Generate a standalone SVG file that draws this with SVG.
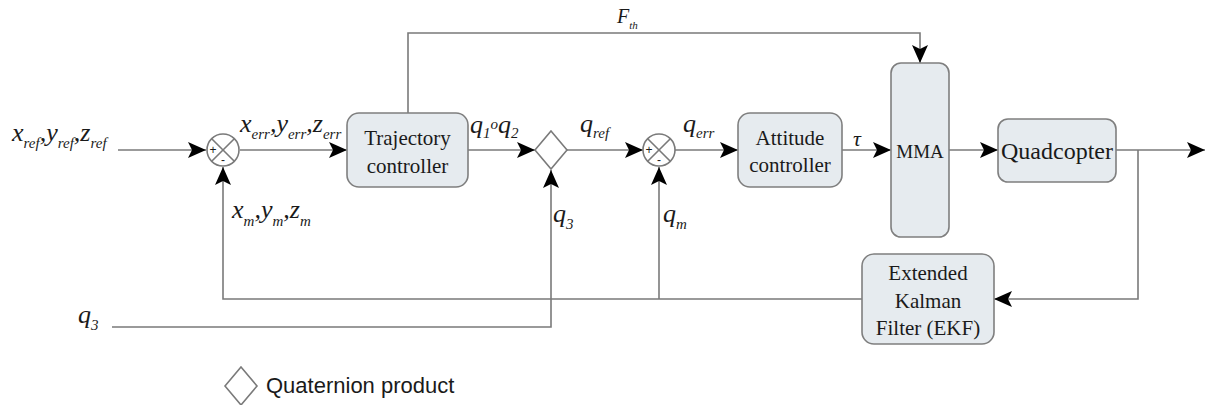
<svg xmlns="http://www.w3.org/2000/svg" width="1210" height="405" viewBox="0 0 1210 405">
<style>
.ln{fill:none;stroke:#7a7a7a;stroke-width:1.6}
.box{fill:#e6ebef;stroke:#7f7f7f;stroke-width:1.6}
.bt{font-family:'Liberation Serif','DejaVu Serif',serif;font-size:21px;fill:#1a1a1a;text-anchor:middle}
.m{font-family:'Liberation Serif','DejaVu Serif',serif;font-style:italic;font-size:26px;fill:#1a1a1a}
.s{font-size:15px}
.sg{font-family:'Liberation Sans',sans-serif;font-size:12px;fill:#1a1a1a;text-anchor:middle}
.lg{font-family:'Liberation Sans',sans-serif;font-size:22px;fill:#1a1a1a}
</style>
<defs>
<marker id="ah" markerUnits="userSpaceOnUse" markerWidth="20" markerHeight="16" refX="18" refY="8" orient="auto">
<path d="M0,0 L18,8 L0,16 L4,8 Z" fill="#000"/>
</marker>
</defs>

<g id="connectors">
<path class="ln" d="M118,150 H206" marker-end="url(#ah)"/>
<path class="ln" d="M240,150 H347" marker-end="url(#ah)"/>
<path class="ln" d="M862,299 H223 V167" marker-end="url(#ah)"/>
<path class="ln" d="M659,299 V167" marker-end="url(#ah)"/>
<path class="ln" d="M468,150 H535" marker-end="url(#ah)"/>
<path class="ln" d="M112,327 H551 V170" marker-end="url(#ah)"/>
<path class="ln" d="M567,150 H643" marker-end="url(#ah)"/>
<path class="ln" d="M675,150 H738" marker-end="url(#ah)"/>
<path class="ln" d="M842,150 H891" marker-end="url(#ah)"/>
<path class="ln" d="M949,150 H998" marker-end="url(#ah)"/>
<path class="ln" d="M1116,150 H1205" marker-end="url(#ah)"/>
<path class="ln" d="M1138,150 V299 H994" marker-end="url(#ah)"/>
<path class="ln" d="M408,113 V33 H920 V63" marker-end="url(#ah)"/>
</g>

<g id="sum1">
<circle class="ln" cx="223" cy="150" r="16" fill="#fff"/>
<path class="ln" d="M211.7,138.7 L234.3,161.3 M234.3,138.7 L211.7,161.3"/>
<text class="sg" x="213" y="154">+</text>
<text class="sg" x="223" y="164">-</text>
</g>

<g id="sum2">
<circle class="ln" cx="659" cy="150" r="16" fill="#fff"/>
<path class="ln" d="M647.7,138.7 L670.3,161.3 M670.3,138.7 L647.7,161.3"/>
<text class="sg" x="649" y="154">+</text>
<text class="sg" x="659" y="164">-</text>
</g>

<g id="trajectory">
<rect class="box" x="347" y="113" width="121" height="74" rx="12"/>
<text class="bt" x="407.5" y="145">Trajectory</text>
<text class="bt" x="407.5" y="173">controller</text>
</g>

<g id="product">
<path class="ln" d="M551,131 L567,150 L551,169 L535,150 Z" fill="#fff"/>
</g>

<g id="attitude">
<rect class="box" x="738" y="113" width="104" height="74" rx="12"/>
<text class="bt" x="790" y="145">Attitude</text>
<text class="bt" x="790" y="172">controller</text>
</g>

<g id="mma">
<rect class="box" x="891" y="63" width="58" height="174" rx="10"/>
<text class="bt" x="920" y="158" style="font-size:19px">MMA</text>
</g>

<g id="quadcopter">
<rect class="box" x="998" y="119" width="118" height="63" rx="10"/>
<text class="bt" x="1057" y="159" style="font-size:24px">Quadcopter</text>
</g>

<g id="ekf">
<rect class="box" x="862" y="254" width="132" height="90" rx="12"/>
<text class="bt" x="928" y="280">Extended</text>
<text class="bt" x="928" y="308">Kalman</text>
<text class="bt" x="928" y="335">Filter (EKF)</text>
</g>

<g id="labels">
<text class="m" x="12" y="141">x<tspan class="s" dy="7">ref</tspan><tspan dy="-7">,y</tspan><tspan class="s" dy="7">ref</tspan><tspan dy="-7">,z</tspan><tspan class="s" dy="7">ref</tspan></text>
<text class="m" x="240" y="132">x<tspan class="s" dy="7">err</tspan><tspan dy="-7">,y</tspan><tspan class="s" dy="7">err</tspan><tspan dy="-7">,z</tspan><tspan class="s" dy="7">err</tspan></text>
<text class="m" x="232" y="218">x<tspan class="s" dy="8">m</tspan><tspan dy="-8">,y</tspan><tspan class="s" dy="8">m</tspan><tspan dy="-8">,z</tspan><tspan class="s" dy="8">m</tspan></text>
<text class="m" x="470" y="133">q<tspan class="s" dy="5">1</tspan><tspan class="s" dy="-9">o</tspan><tspan dy="4">q</tspan><tspan class="s" dy="5">2</tspan></text>
<text class="m" x="580" y="132">q<tspan class="s" dy="6">ref</tspan></text>
<text class="m" x="683" y="132">q<tspan class="s" dy="6">err</tspan></text>
<text class="m" x="853" y="146" style="font-size:22px">τ</text>
<text class="m" x="553" y="222">q<tspan class="s" dy="7">3</tspan></text>
<text class="m" x="663" y="222">q<tspan class="s" dy="7">m</tspan></text>
<text class="m" x="78" y="323">q<tspan class="s" dy="7">3</tspan></text>
<text class="m" x="617" y="23" style="font-size:20px">F<tspan style="font-size:11px" dy="6">th</tspan></text>
</g>

<g id="legend">
<path class="ln" d="M241,367 L257,386 L241,405 L225,386 Z" fill="#fff"/>
<text class="lg" x="266" y="393">Quaternion product</text>
</g>
</svg>
